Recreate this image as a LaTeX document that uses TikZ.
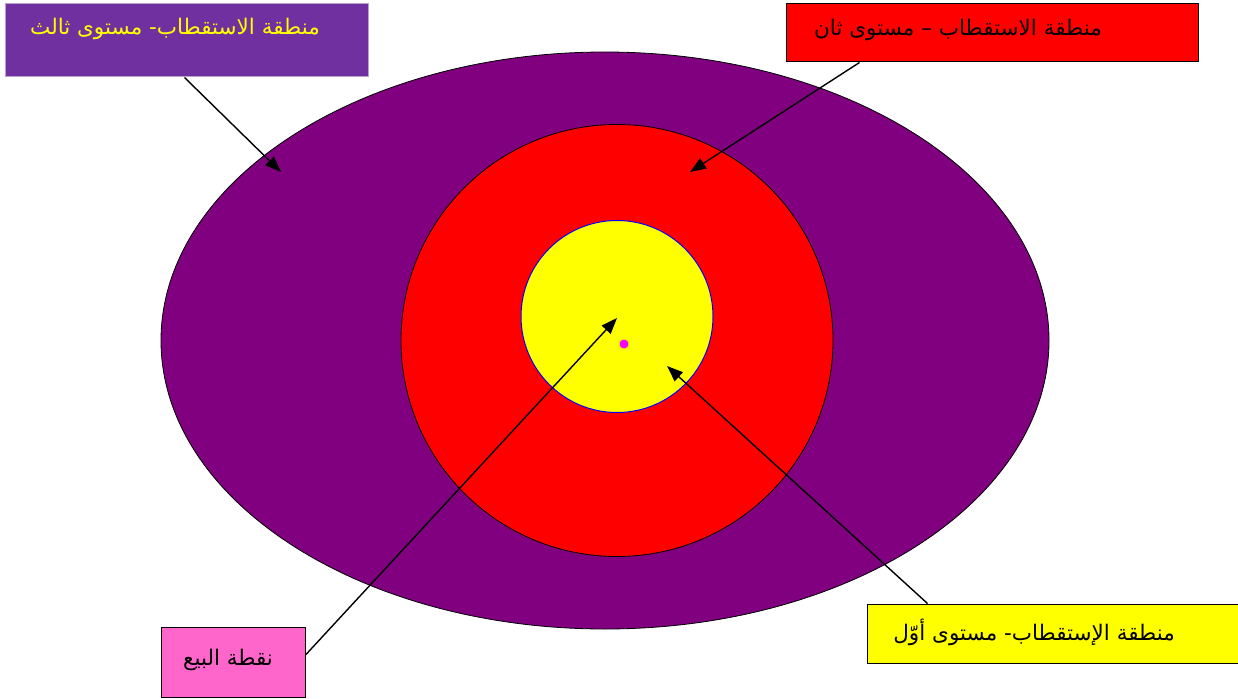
\documentclass[tikz,border=0pt]{standalone}
\usepackage{fontspec}
\newfontfamily\arabicfont[Script=Arabic]{DejaVu Sans}
\TeXXeTstate=1
\usetikzlibrary{arrows.meta,shapes.geometric}
\definecolor{boxpurple}{HTML}{7030A0}
\definecolor{boxpurpleedge}{HTML}{B8A0D0}
\definecolor{ellpurple}{HTML}{800080}
\definecolor{pinkbox}{HTML}{FF66CC}
\definecolor{dotmag}{HTML}{FF00FF}
\definecolor{pureyellow}{HTML}{FFFF00}
\tikzset{
  labelbox/.style={draw=black, line width=1pt, minimum width=#1, inner sep=0pt},
  labeltext/.style={font=\arabicfont\fontsize{21.5}{24}\selectfont, inner sep=0pt},
  pointer/.style={draw=black, line width=1.4pt, -{Triangle[length=16pt,width=12pt]}},
}
\begin{document}
\begin{tikzpicture}[x=1pt,y=-1pt]
\useasboundingbox (0,0) rectangle (1238,698);
\fill[white] (0,0) rectangle (1238,698);
% zones
\node[draw=black, line width=0.8pt, fill=ellpurple, ellipse, minimum width=888pt, minimum height=577pt, inner sep=0pt] (outer) at (605,340.5) {};
\node[draw=black, line width=0.8pt, fill=red, circle, minimum size=432pt, inner sep=0pt] (middle) at (617,340.5) {};
\node[draw=blue, line width=1pt, fill=pureyellow, circle, minimum size=192pt, inner sep=0pt] (inner) at (617,316.5) {};
\node[fill=dotmag, circle, minimum size=9pt, inner sep=0pt] (dot) at (624,344) {};
% label boxes
\node[labelbox=363pt, draw=boxpurpleedge, fill=boxpurple, minimum height=73pt] (b3) at (186.5,40.5) {};
\node[labeltext, text=pureyellow, anchor=east] (t3) at (320,29) {\beginR منطقة الاستقطاب- مستوى ثالث\endR};
\node[labelbox=412pt, fill=red, minimum height=58pt] (b2) at (992,33) {};
\node[labeltext, text=black, anchor=east] (t2) at (1102,30) {\beginR منطقة الاستقطاب – مستوى ثان\endR};
\node[labelbox=376pt, fill=pureyellow, minimum height=59pt] (b1) at (1055,633.5) {};
\node[labeltext, text=black, anchor=east] (t1) at (1175,632) {\beginR منطقة الإستقطاب- مستوى أوّل\endR};
\node[labelbox=144pt, fill=pinkbox, minimum height=70pt] (b0) at (233,662) {};
\node[labeltext, text=black] (t0) at (228,660) {\beginR نقطة البيع\endR};
% tips
\coordinate (c3) at (281,172);
\coordinate (c2) at (690,172);
\coordinate (c1) at (667,366);
\coordinate (c0) at (617,318);
\draw[pointer] (b3.south west) ++(180,0) coordinate (s3) (s3) -- (c3);
\draw[pointer] (b2.south west) ++(74,0) coordinate (s2) (s2) -- (c2);
\draw[pointer] (b1.north west) ++(61,0) coordinate (s1) (s1) -- (c1);
\draw[pointer] (b0.east) ++(0,-7) coordinate (s0) (s0) -- (c0);
\end{tikzpicture}
\end{document}
